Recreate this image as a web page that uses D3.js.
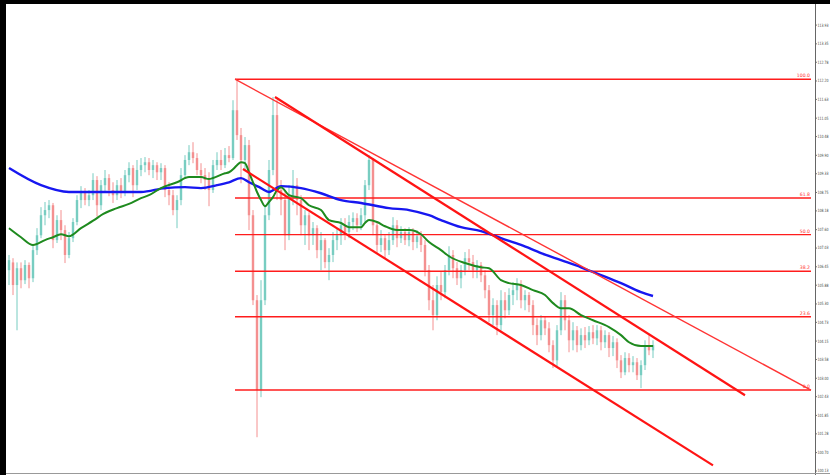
<!DOCTYPE html>
<html><head><meta charset="utf-8">
<script src="https://cdn.jsdelivr.net/npm/d3@7/dist/d3.min.js"></script>
<style>html,body{margin:0;padding:0;background:#fff;}svg{display:block;}</style>
</head><body>
<svg id="c" width="830" height="475"></svg>
<script>
// ---- data (prices) ----
const open  = [106.33,106.57,105.87,106.39,106.02,106.49,106.08,106.95,107.41,108.03,108.19,108.34,107.26,107.88,107.57,106.80,107.32,107.82,108.50,108.75,108.50,108.65,109.12,108.34,108.96,109.18,108.81,108.65,108.96,108.75,109.27,109.49,108.96,109.43,109.58,109.67,109.43,109.58,109.36,109.49,108.81,108.65,108.19,108.50,109.27,109.74,109.98,109.80,109.43,109.27,109.12,108.81,109.58,109.74,109.58,109.89,109.80,111.28,110.51,109.74,110.20,108.03,105.40,102.62,105.40,108.03,109.43,111.13,108.81,108.50,107.41,108.65,108.96,108.50,107.72,108.03,107.41,107.63,106.95,107.26,106.58,106.80,107.26,107.41,107.72,107.51,107.82,107.94,107.72,108.03,108.96,109.74,107.72,107.11,107.32,106.95,107.26,107.72,107.32,107.51,107.26,107.51,107.20,107.38,107.11,106.33,105.40,104.94,105.87,105.65,106.33,106.80,106.39,106.08,106.33,106.70,106.58,106.33,106.49,106.17,105.71,104.94,105.25,104.63,105.40,105.09,105.56,105.71,105.87,105.40,105.56,105.25,104.63,104.32,104.78,104.53,104.01,103.54,104.47,105.40,104.78,104.16,104.47,104.01,104.32,104.16,104.41,104.22,104.47,104.10,104.32,103.92,104.10,103.54,103.17,103.61,103.39,103.48,103.08,103.39,104.01,103.85];
const high  = [106.80,106.70,106.57,106.57,106.64,106.57,107.11,107.63,108.28,108.44,108.50,108.41,108.03,108.19,107.72,107.51,107.94,108.65,108.93,108.87,108.81,109.33,109.24,109.12,109.43,109.30,109.05,109.12,109.18,109.43,109.67,109.58,109.74,109.80,109.83,109.80,109.74,109.67,109.64,109.58,109.05,108.81,108.65,109.49,109.89,110.20,110.29,109.95,109.64,109.49,109.36,109.74,109.98,110.05,110.11,110.17,111.59,112.24,110.73,110.45,110.36,108.19,105.56,106.02,108.34,109.74,111.69,111.59,109.12,108.81,108.96,109.43,109.18,108.65,108.19,108.12,107.82,107.72,107.51,107.32,107.01,107.51,107.63,107.94,107.94,108.03,108.12,108.09,108.25,109.12,109.89,109.80,107.82,107.57,107.41,107.51,107.97,107.88,107.69,107.63,107.66,107.63,107.57,107.54,107.26,106.49,105.87,106.14,106.27,106.49,107.07,106.95,106.58,106.49,106.89,106.98,106.80,106.64,106.58,106.33,105.87,105.46,105.40,105.71,105.65,105.77,105.96,106.08,106.02,105.71,105.65,105.40,104.84,104.94,104.91,104.72,104.16,104.63,105.65,105.56,104.94,104.72,104.60,104.53,104.57,104.60,104.63,104.63,104.60,104.47,104.41,104.29,104.22,103.70,103.79,103.76,103.67,103.61,103.54,104.16,104.32,104.16];
const low   = [105.87,105.56,104.47,105.77,105.90,105.77,105.96,106.80,107.32,107.72,107.94,107.01,107.17,107.26,106.55,106.70,107.20,107.72,108.25,108.34,108.31,108.50,107.99,108.19,108.75,108.62,108.41,108.50,108.56,108.62,109.05,108.59,108.81,109.24,109.36,109.27,109.18,109.12,109.12,108.59,108.34,108.03,107.63,108.34,109.18,109.58,109.64,109.27,109.02,108.81,108.31,108.72,109.43,109.43,109.49,109.67,109.74,110.36,109.02,109.43,107.57,105.25,101.16,102.40,105.25,107.88,109.27,108.50,108.03,106.95,107.26,108.34,108.03,107.41,107.11,106.95,107.11,106.70,106.33,106.39,106.02,106.58,106.95,107.11,107.26,107.32,107.57,107.51,107.57,107.82,108.81,107.41,106.86,106.89,106.70,106.80,107.11,107.04,107.17,107.11,107.07,106.95,107.01,106.89,106.14,105.09,104.47,104.78,105.40,105.46,106.17,106.08,105.87,105.77,106.17,106.33,106.08,106.08,105.96,105.46,104.72,104.63,104.32,104.47,104.84,104.94,105.25,105.40,105.15,105.09,105.03,104.32,104.01,104.16,104.32,103.79,103.30,103.36,104.32,104.47,103.79,103.85,103.79,103.85,103.92,104.01,104.04,104.01,103.85,103.92,103.64,103.67,103.30,102.99,103.08,103.17,103.17,102.93,102.68,103.24,103.70,103.61];
const close = [106.64,105.87,106.39,106.02,106.49,106.08,106.95,107.41,108.03,108.19,108.34,107.26,107.88,107.57,106.80,107.32,107.82,108.50,108.75,108.50,108.65,109.12,108.34,108.96,109.18,108.81,108.65,108.96,108.75,109.27,109.49,108.96,109.43,109.58,109.67,109.43,109.58,109.36,109.49,108.81,108.65,108.19,108.50,109.27,109.74,109.98,109.80,109.43,109.27,109.12,108.81,109.58,109.74,109.58,109.89,109.80,111.28,110.51,109.74,110.20,108.03,105.40,102.62,105.40,108.03,109.43,111.13,108.81,108.50,107.41,108.65,108.96,108.50,107.72,108.03,107.41,107.63,106.95,107.26,106.58,106.80,107.26,107.41,107.72,107.51,107.82,107.94,107.72,108.03,108.96,109.74,107.72,107.11,107.32,106.95,107.26,107.72,107.32,107.51,107.26,107.51,107.20,107.38,107.11,106.33,105.40,104.94,105.87,105.65,106.33,106.80,106.39,106.08,106.33,106.70,106.58,106.33,106.49,106.17,105.71,104.94,105.25,104.63,105.40,105.09,105.56,105.71,105.87,105.40,105.56,105.25,104.63,104.32,104.78,104.53,104.01,103.54,104.47,105.40,104.78,104.16,104.47,104.01,104.32,104.16,104.41,104.22,104.47,104.10,104.32,103.92,104.10,103.54,103.17,103.61,103.39,103.48,103.08,103.39,104.01,103.85,104.01];

// moving averages read at candle indices
const slowIdx = [0,8,15,23,33,39,44,48,52,55,58,60,63,65,68,73,78,83,88,95,100,105,108,113,118,123,128,133,138,143,148,153,158,161];
const slowMA  = [109.49,108.96,108.75,108.75,108.75,108.87,108.90,108.87,108.96,109.05,109.18,109.05,108.87,108.75,108.93,108.87,108.71,108.50,108.41,108.25,108.19,108.03,107.88,107.66,107.54,107.32,107.11,106.86,106.64,106.42,106.18,105.93,105.65,105.53];
const fastIdx = [0,3,6,9,11,13,15,18,22,23,27,30,33,35,38,42,45,48,50,51,54,55,56,57,58,59,60,61,62,63,64,65,66,67,68,70,73,75,78,80,83,85,88,89,90,92,94,97,100,103,105,108,110,114,118,120,123,125,128,131,134,136,138,140,143,146,150,153,155,158,161];
const fastMA  = [107.63,107.35,107.11,107.26,107.35,107.44,107.38,107.63,107.94,108.03,108.25,108.38,108.56,108.65,108.87,109.05,109.21,109.21,109.15,109.18,109.33,109.36,109.45,109.58,109.67,109.64,109.36,109.05,108.75,108.50,108.31,108.44,108.59,108.81,108.90,108.65,108.56,108.34,108.19,107.88,107.79,107.66,107.66,107.79,107.88,107.82,107.69,107.57,107.57,107.44,107.20,106.95,106.76,106.55,106.42,106.39,106.02,105.93,105.87,105.71,105.56,105.31,105.15,105.15,104.94,104.78,104.57,104.32,104.10,103.98,103.98];

// fibonacci retracement
const fibLevels = [0, 23.6, 38.2, 50.0, 61.8, 100.0];
const fibLabels = ["0.0","23.6","38.2","50.0","61.8","100.0"];
const fibHigh = 112.24, fibLow = 102.62, fibStart = 56.5, fibEnd = 200.5;

// trend lines [startIndex, startPrice, endIndex, endPrice]
const trendThin  = [56.5, 112.24, 200.5, 102.62];
const trendUpper = [66.5, 111.69, 184, 102.46];
const trendLower = [58.5, 109.46, 176, 100.29];

// price axis tick labels
const yTicks = [113.93,113.35,112.78,112.20,111.63,111.05,110.48,109.90,109.33,108.75,108.18,107.60,107.03,106.45,105.88,105.30,104.73,104.15,103.58,103.00,102.43,101.85,101.28,100.70,100.13];

// ---- drawing ----
const W = 830, H = 475;
const svg = d3.select("#c");
const x = d3.scaleLinear().domain([0, 161]).range([9, 653]);
const y = d3.scaleLinear().domain([100.13, 113.93]).range([470.5, 24.6]);

const plot = svg.append("g");
plot.append("defs").append("clipPath").attr("id","clip")
  .append("rect").attr("x",6).attr("y",4).attr("width",809).attr("height",469);
const g = plot.append("g").attr("clip-path","url(#clip)");

// candles
const bull = "#3fb8a8", bear = "#f06262";
const candles = g.append("g").attr("opacity",0.7);
close.forEach((c, i) => {
  const o = open[i], col = c >= o ? bull : bear;
  const cx = x(i);
  candles.append("line").attr("x1",cx).attr("x2",cx)
    .attr("y1",y(high[i])).attr("y2",y(low[i]))
    .attr("stroke",col).attr("stroke-width",1);
  const top = y(Math.max(o,c)), bot = y(Math.min(o,c));
  candles.append("rect").attr("x",cx-1.2).attr("width",2.4)
    .attr("y",top).attr("height",Math.max(1,bot-top)).attr("fill",col);
});

// fib lines
fibLevels.forEach((lv, k) => {
  const p = fibLow + (fibHigh - fibLow) * lv / 100;
  g.append("line").attr("x1",x(fibStart)).attr("x2",x(fibEnd))
    .attr("y1",y(p)).attr("y2",y(p)).attr("stroke","#ff1c1c").attr("stroke-width",1.4);
  g.append("text").attr("x",x(fibEnd)-1).attr("y",y(p)-2)
    .attr("text-anchor","end").attr("font-family","DejaVu Sans, sans-serif")
    .attr("font-size",4.6).attr("fill","#ff3030").text(fibLabels[k]);
});

// moving averages
const line = d3.line().curve(d3.curveMonotoneX);
g.append("path").attr("d", line(slowIdx.map((d,k)=>[x(d), y(slowMA[k])])))
  .attr("fill","none").attr("stroke","#1717f0").attr("stroke-width",2.4);
g.append("path").attr("d", line(fastIdx.map((d,k)=>[x(d), y(fastMA[k])])))
  .attr("fill","none").attr("stroke","#1e8a1e").attr("stroke-width",2);

// trend lines
function trend(t, w, col){
  g.append("line").attr("x1",x(t[0])).attr("y1",y(t[1]))
    .attr("x2",x(t[2])).attr("y2",y(t[3]))
    .attr("stroke",col).attr("stroke-width",w);
}
trend(trendThin, 1.4, "#ff3434");
trend(trendUpper, 2.2, "#ff1414");
trend(trendLower, 2.2, "#ff1414");

// price axis (labels squeezed horizontally so they fit the narrow margin)
const axis = d3.axisRight(y).tickValues(yTicks).tickSize(2).tickPadding(0.8)
  .tickFormat(d3.format(".2f"));
const ax = svg.append("g").attr("transform","translate(815.5,0) scale(0.72,1)").call(axis);
ax.select(".domain").remove();
ax.selectAll("line").attr("stroke","#555");
ax.selectAll("text").attr("font-family","DejaVu Sans, sans-serif")
  .attr("font-size",4.4).attr("fill","#444");
svg.append("line").attr("x1",815.5).attr("x2",815.5).attr("y1",4).attr("y2",H)
  .attr("stroke","#666").attr("stroke-width",1);

// frame
svg.append("rect").attr("x",0).attr("y",0).attr("width",W).attr("height",4).attr("fill","#000");
svg.append("rect").attr("x",0).attr("y",0).attr("width",6).attr("height",H).attr("fill","#000");
svg.append("line").attr("x1",6).attr("x2",W).attr("y1",473.5).attr("y2",473.5)
  .attr("stroke","#999").attr("stroke-width",1);
</script>
</body></html>
